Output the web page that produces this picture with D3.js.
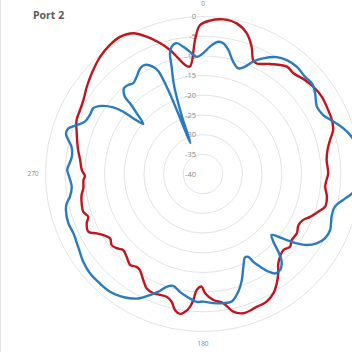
<!DOCTYPE html>
<html><head><meta charset="utf-8">
<script src="https://cdn.jsdelivr.net/npm/d3@7"></script>
<style>html,body{margin:0;padding:0;background:#fff;overflow:hidden}</style>
</head><body>
<svg id="chart" width="352" height="352"></svg>
<script>
const title = "Port 2";
const radialTicks = [0, -5, -10, -15, -20, -25, -30, -35, -40];
const angleLabels = [0, 180, 270];

const redAngles = [2.6,7.5,12.6,17.3,20.9,23.8,25.9,31.3,38.0,41.9,47.3,51.6,56.9,62.9,67.2,71.3,75.0,79.1,83.5,89.7,92.8,95.9,100.4,105.0,108.1,111.8,114.6,118.2,122.3,126.7,129.9,133.4,137.0,139.9,142.8,146.0,149.5,153.5,158.0,163.9,167.6,171.1,175.3,179.0,180.7,183.1,184.4,185.6,187.4,189.3,191.6,193.8,196.5,199.6,202.6,206.2,209.4,213.3,215.6,218.7,222.7,226.4,229.3,232.1,235.3,238.5,240.8,243.3,247.0,249.6,252.5,256.4,260.2,263.2,267.1,269.0,271.9,276.5,280.9,287.9,293.1,297.5,301.7,306.9,312.1,318.7,324.2,328.8,333.6,337.7,341.8,345.1,348.0,350.6,353.1,356.6,358.8];
const redValues = [-1.0,-0.4,-0.8,-2.6,-5.4,-8.4,-8.8,-7.3,-5.4,-5.6,-4.8,-4.3,-4.0,-4.3,-4.5,-5.1,-6.6,-7.8,-8.4,-8.2,-8.6,-8.8,-8.0,-7.9,-9.2,-10.7,-12.0,-12.5,-11.8,-11.9,-11.2,-11.9,-11.3,-10.3,-8.4,-6.5,-4.8,-3.8,-3.6,-3.2,-4.2,-6.8,-7.9,-9.7,-11.4,-10.5,-7.9,-6.1,-4.7,-4.0,-4.7,-6.6,-7.5,-7.4,-7.2,-7.6,-9.1,-10.8,-11.0,-10.4,-11.4,-12.0,-11.1,-10.6,-11.3,-10.3,-9.1,-7.4,-7.9,-8.9,-8.1,-8.3,-8.7,-9.4,-9.6,-10.0,-9.2,-8.6,-7.7,-6.3,-5.1,-4.8,-4.3,-3.1,-1.9,-0.4,0.4,0.7,-0.1,-2.3,-5.0,-7.4,-10.0,-11.9,-12.5,-5.9,-2.2];

const blueAngles = [0.1,3.1,6.6,8.8,11.5,15.1,18.5,21.4,24.1,27.5,32.3,36.3,41.1,46.3,50.2,54.2,59.4,63.9,68.1,72.0,75.9,80,85,90,94,97.4,100.5,103.9,108.4,113.8,117.8,121.4,124.4,126.5,128.3,129.8,131.6,133.9,135.9,138.1,141.3,144.1,146.2,148.4,150.2,151.3,153.2,156.5,159.9,163.3,167.3,171.1,175.4,179.9,182.8,187.6,191.1,194.9,197.9,200.8,203.7,206.9,210.4,214.2,218.3,223.3,228.7,233.8,239.8,245.4,249.9,255.3,257.9,260.3,264.5,268.8,271.7,273.1,277.5,281.7,284.2,286.5,288.7,291.2,293.9,297.6,300.9,303.9,306.6,308.0,308.6,310.0,312.5,314.1,314.7,317.3,320.0,322.5,325.7,329.2,332.0,335.1,336.5,337.5,338.0,340.0,342.0,343.7,344.7,346.2,348.6,351.2,353.9,356.9];
const blueValues = [-9.3,-7.6,-6.2,-6.4,-7.8,-10.5,-11.7,-10.7,-8.7,-6.9,-4.9,-4.1,-3.8,-4.2,-4.0,-4.9,-6.4,-6.0,-4.3,-2.5,-1.1,-0.3,0.2,0.3,-0.6,-1.8,-3.8,-5.5,-5.6,-4.7,-5.0,-6.2,-8.1,-10.4,-12.9,-15.1,-16.7,-15.2,-12.5,-10.1,-8.7,-8.8,-10.2,-12.4,-14.3,-16.0,-16.3,-14.3,-11.3,-8.8,-6.8,-6.8,-7.1,-7.6,-7.5,-8.6,-9.5,-10.6,-9.9,-8.0,-6.4,-4.6,-3.4,-2.5,-1.9,-1.8,-1.8,-2.3,-3.3,-3.8,-3.6,-4.0,-4.6,-5.7,-6.5,-6.0,-5.5,-5.7,-6.4,-5.9,-4.7,-3.7,-3.9,-5.6,-7.2,-7.6,-7.5,-9.0,-11.6,-14.3,-17.3,-20.2,-17.2,-14.2,-12.1,-10.4,-10.5,-10.9,-10.1,-8.8,-8.6,-10.0,-11.5,-17.0,-31.5,-24.0,-16.0,-11.6,-8.2,-6.7,-6.1,-7.3,-8.8,-10.2];

const cx = 203, cy = 174, R = 157.5;
const svg = d3.select("#chart");
svg.append("rect").attr("width",352).attr("height",352).attr("fill","#fff");
svg.append("line").attr("x1",0.5).attr("x2",0.5).attr("y1",0).attr("y2",352).attr("stroke","#e4e4e4");

svg.append("text").attr("x",33).attr("y",19).text(title)
  .attr("font-family","'Open Sans', 'Liberation Sans', sans-serif").attr("font-weight","bold")
  .attr("font-size",10.5).attr("fill","#595959");

const g = svg.append("g").attr("transform",`translate(${cx},${cy})`);
const r = d3.scaleLinear().domain([-40,0]).range([0,R]);

g.selectAll("circle.grid").data(radialTicks.filter(t=>t>-40)).join("circle")
  .attr("class","grid").attr("r",d=>r(d)).attr("fill","none")
  .attr("stroke","#e3e3e3").attr("stroke-width",1);

g.selectAll("text.tick").data(radialTicks).join("text").attr("class","tick")
  .attr("x",-7).attr("y",d=>-r(d)).attr("dy","0.35em").attr("text-anchor","end")
  .attr("font-family","'Open Sans', sans-serif").attr("font-size",7.5).attr("fill","#8a8a8a")
  .text(d=>d);

const labR = 170;
g.selectAll("text.ang").data(angleLabels).join("text").attr("class","ang")
  .attr("x",d=>labR*Math.sin(d*Math.PI/180)).attr("y",d=>-labR*Math.cos(d*Math.PI/180))
  .attr("dy","0.35em").attr("text-anchor","middle")
  .attr("font-family","'Open Sans', sans-serif").attr("font-size",6.5).attr("fill","#8a8a8a")
  .text(d=>d);

const line = d3.lineRadial().angle(d=>d.a*Math.PI/180).radius(d=>r(d.v))
  .curve(d3.curveCatmullRomClosed.alpha(0.5));
const red = redAngles.map((a,i)=>({a, v: redValues[i]}));
const blue = blueAngles.map((a,i)=>({a, v: blueValues[i]}));

g.append("path").datum(red).attr("d",line).attr("fill","none")
  .attr("stroke","#c0151d").attr("stroke-width",2.4).attr("stroke-linejoin","round");
g.append("path").datum(blue).attr("d",line).attr("fill","none")
  .attr("stroke","#2a7bbd").attr("stroke-width",2.4).attr("stroke-linejoin","round");
</script>
</body></html>
